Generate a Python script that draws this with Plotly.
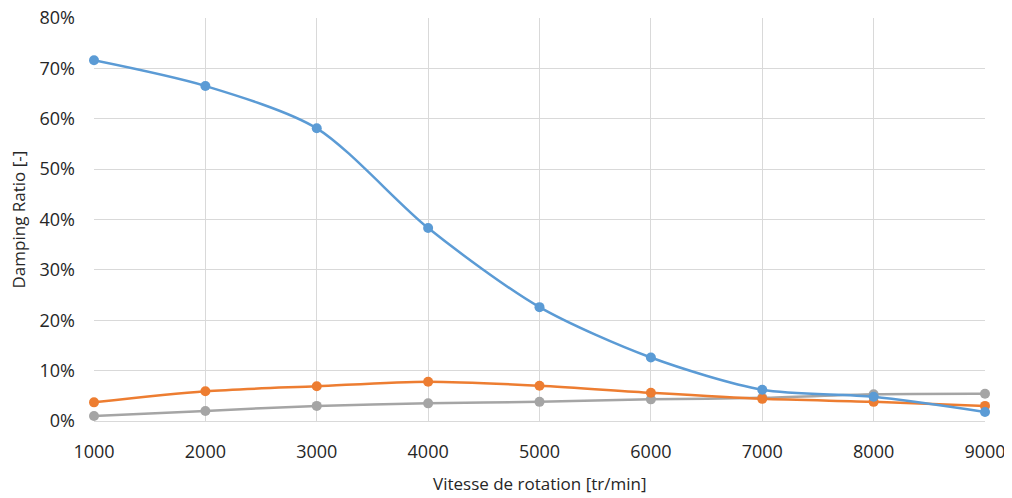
import plotly.graph_objects as go

speeds = [1000, 2000, 3000, 4000, 5000, 6000, 7000, 8000, 9000]
mode1 = [0.716, 0.665, 0.581, 0.383, 0.226, 0.126, 0.062, 0.048, 0.018]
mode2 = [0.037, 0.059, 0.069, 0.078, 0.070, 0.056, 0.044, 0.038, 0.030]
mode3 = [0.010, 0.020, 0.030, 0.035, 0.038, 0.043, 0.046, 0.053, 0.054]

colors = ["#5B9BD5", "#ED7D31", "#A5A5A5"]
names = ["Mode 1", "Mode 2", "Mode 3"]

fig = go.Figure()
for ys, c, n in [(mode3, colors[2], names[2]), (mode2, colors[1], names[1]), (mode1, colors[0], names[0])]:
    fig.add_trace(go.Scatter(
        x=speeds, y=ys, name=n, mode="lines+markers",
        line=dict(color=c, width=2.5, shape="spline", smoothing=0.8),
        marker=dict(color=c, size=10),
        cliponaxis=False,
    ))

font_family = "Open Sans, Liberation Sans, sans-serif"
txt = "#262626"
# page body has an 8px default margin; the figure is sized to compensate
fig.update_layout(
    width=1004, height=490,
    margin=dict(l=86, r=27, t=10, b=77),
    paper_bgcolor="white", plot_bgcolor="white",
    showlegend=False,
    font=dict(family=font_family, size=18, color=txt),
    xaxis=dict(
        range=[1000, 9000], tickvals=speeds, ticktext=[str(s) for s in speeds],
        showgrid=True, gridcolor="#D9D9D9", gridwidth=1,
        showline=True, linecolor="#D9D9D9", linewidth=1,
        zeroline=False, ticks="", ticklen=0,
        automargin=False, ticklabelstandoff=14, ticklabeloverflow="allow",
        tickfont=dict(size=18),
    ),
    yaxis=dict(
        range=[0, 0.8], dtick=0.1, tickformat=".0%",
        showgrid=True, gridcolor="#D9D9D9", gridwidth=1,
        showline=False, zeroline=False, ticks="",
        automargin=False, ticklabelstandoff=18, ticklabeloverflow="allow",
        tickfont=dict(size=18),
    ),
    annotations=[
        dict(text="Vitesse de rotation [tr/min]", xref="paper", yref="paper",
             x=0.5, y=0, yshift=-62, xanchor="center", yanchor="middle",
             showarrow=False, font=dict(size=17, color=txt)),
        dict(text="Damping Ratio [-]", xref="paper", yref="paper",
             x=0, y=0.5, xshift=-76, xanchor="center", yanchor="middle",
             textangle=-90, showarrow=False, font=dict(size=17, color=txt)),
    ],
)

fig.write_html("out.html")
